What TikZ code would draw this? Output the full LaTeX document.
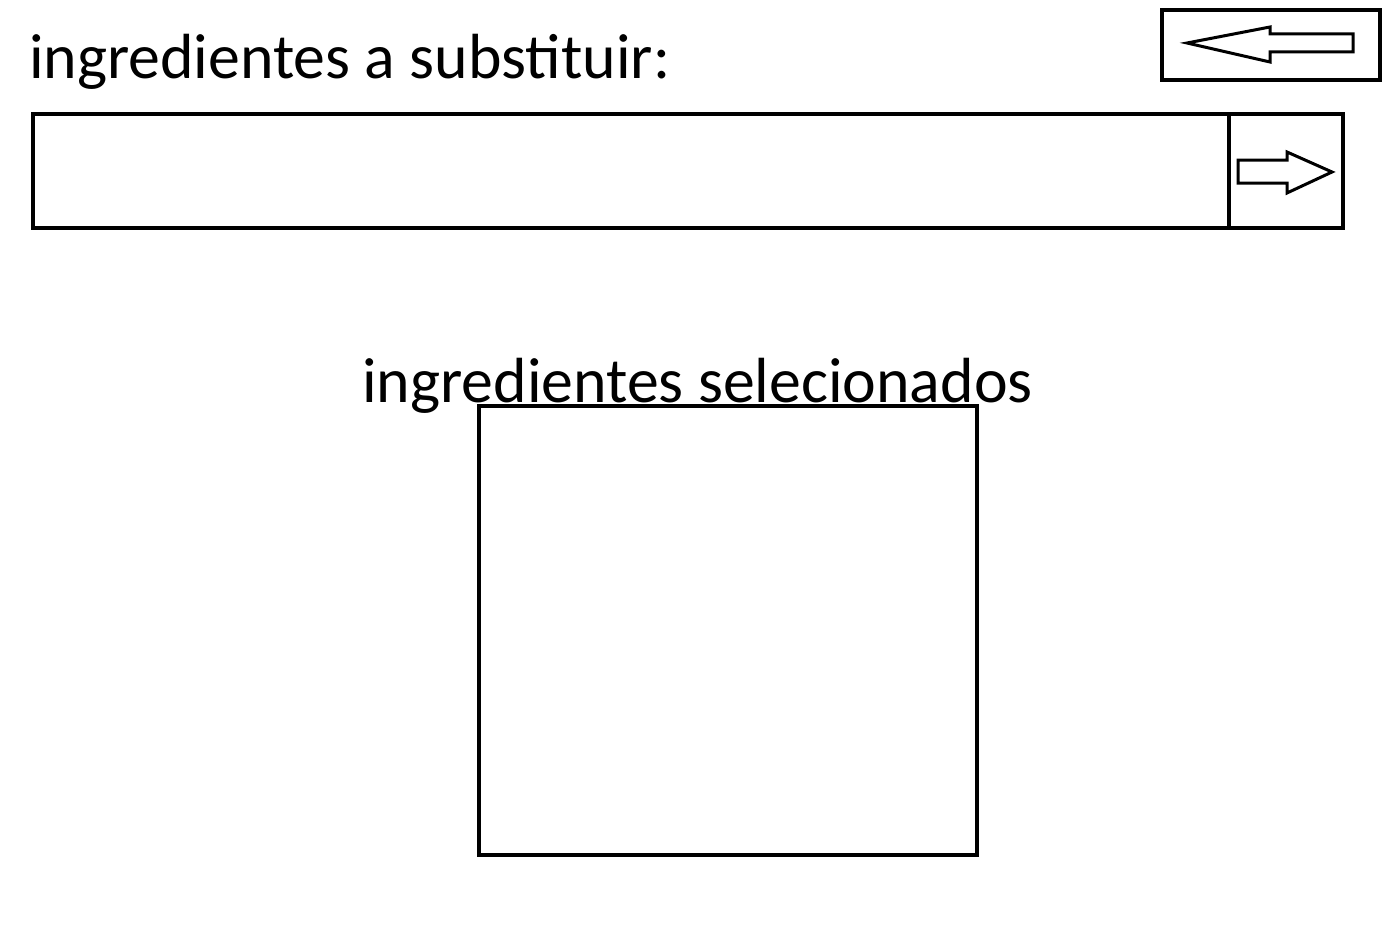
\documentclass[tikz,border=0pt]{standalone}
\usepackage{fontspec}
\setmainfont{Carlito}
\begin{document}
\begin{tikzpicture}
	[x=1pt,y=-1pt,every node/.style={inner sep=0pt,outer sep=0pt},
	caixa/.style={draw,line width=3.5pt},
	seta/.style={draw,line width=3pt,line join=miter},
	rotulo/.style={font=\fontsize{63.8}{76}\selectfont}]
	\useasboundingbox (0,0) rectangle (1399,934);
	\node[rotulo,anchor=base west] (titulo) at (29,78) {ingredientes a substituir:};
	\node[rotulo,anchor=base] (subtitulo) at (697.5,402) {ingredientes selecionados};
	
	\node[caixa,minimum width=218pt,minimum height=70pt] (voltar) at (1271,45) {};
	\node[caixa,minimum width=1196pt,minimum height=114pt] (entrada) at (631,171) {};
	\node[caixa,minimum width=114pt,minimum height=114pt] (avancar) at (1286,171) {};
	\node[caixa,minimum width=498pt,minimum height=449pt] (lista) at (728,630.5) {};
	
	\draw[seta] (1187,43) -- (1270,27) -- (1270,34) -- (1353,34) -- (1353,52) -- (1270,52) -- (1270,62) -- cycle;
	\draw[seta] (1238,160) -- (1287,160) -- (1287,152) -- (1332,172) -- (1287,193) -- (1287,183) -- (1238,183) -- cycle;
\end{tikzpicture}
\end{document}
